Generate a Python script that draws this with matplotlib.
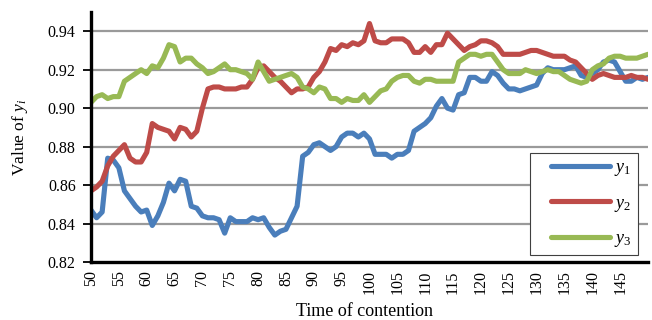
import numpy as np
import matplotlib
matplotlib.use("Agg")
import matplotlib.pyplot as plt
from matplotlib.legend_handler import HandlerLine2D

plt.rcParams["font.family"] = ["Liberation Serif", "DejaVu Serif"]
plt.rcParams["mathtext.fontset"] = "custom"
plt.rcParams["mathtext.rm"] = "Liberation Serif"
plt.rcParams["mathtext.it"] = "Liberation Serif:italic"

# Contention time steps
times = list(range(50, 151))

y1 = [0.847, 0.843, 0.846, 0.874, 0.873, 0.869, 0.857, 0.853, 0.849, 0.846,
      0.847, 0.839, 0.844, 0.851, 0.861, 0.857, 0.863, 0.862, 0.849, 0.848,
      0.844, 0.843, 0.843, 0.842, 0.835, 0.843, 0.841, 0.841, 0.841, 0.843,
      0.842, 0.843, 0.838, 0.834, 0.836, 0.837, 0.843, 0.849, 0.875, 0.877,
      0.881, 0.882, 0.880, 0.878, 0.880, 0.885, 0.887, 0.887, 0.885, 0.887,
      0.884, 0.876, 0.876, 0.876, 0.874, 0.876, 0.876, 0.878, 0.888, 0.890,
      0.892, 0.895, 0.901, 0.905, 0.900, 0.899, 0.907, 0.908, 0.916, 0.916,
      0.914, 0.914, 0.919, 0.917, 0.913, 0.910, 0.910, 0.909, 0.910, 0.911,
      0.912, 0.918, 0.921, 0.920, 0.920, 0.920, 0.921, 0.922, 0.917, 0.916,
      0.918, 0.920, 0.924, 0.925, 0.924, 0.919, 0.914, 0.914, 0.916, 0.915,
      0.916]

y2 = [0.857, 0.859, 0.862, 0.870, 0.875, 0.878, 0.881, 0.874, 0.872, 0.872,
      0.877, 0.892, 0.890, 0.889, 0.888, 0.884, 0.890, 0.889, 0.885, 0.888,
      0.900, 0.910, 0.911, 0.911, 0.910, 0.910, 0.910, 0.911, 0.911, 0.915,
      0.921, 0.922, 0.919, 0.916, 0.914, 0.911, 0.908, 0.910, 0.910, 0.911,
      0.916, 0.919, 0.924, 0.931, 0.930, 0.933, 0.932, 0.934, 0.933, 0.935,
      0.944, 0.935, 0.934, 0.934, 0.936, 0.936, 0.936, 0.934, 0.929, 0.929,
      0.932, 0.929, 0.933, 0.933, 0.939, 0.936, 0.933, 0.930, 0.932, 0.933,
      0.935, 0.935, 0.934, 0.932, 0.928, 0.928, 0.928, 0.928, 0.929, 0.930,
      0.930, 0.929, 0.928, 0.927, 0.927, 0.927, 0.925, 0.924, 0.921, 0.918,
      0.915, 0.917, 0.918, 0.917, 0.916, 0.916, 0.916, 0.917, 0.916, 0.916,
      0.915]

y3 = [0.903, 0.906, 0.907, 0.905, 0.906, 0.906, 0.914, 0.916, 0.918, 0.920,
      0.918, 0.922, 0.921, 0.926, 0.933, 0.932, 0.924, 0.926, 0.926, 0.923,
      0.921, 0.918, 0.919, 0.921, 0.923, 0.920, 0.920, 0.919, 0.918, 0.915,
      0.924, 0.919, 0.914, 0.915, 0.916, 0.917, 0.918, 0.916, 0.911, 0.910,
      0.908, 0.911, 0.910, 0.905, 0.905, 0.903, 0.905, 0.904, 0.904, 0.907,
      0.903, 0.906, 0.909, 0.910, 0.914, 0.916, 0.917, 0.917, 0.914, 0.913,
      0.915, 0.915, 0.914, 0.914, 0.914, 0.914, 0.924, 0.926, 0.928, 0.928,
      0.927, 0.928, 0.928, 0.924, 0.920, 0.918, 0.918, 0.918, 0.920, 0.919,
      0.918, 0.919, 0.920, 0.919, 0.919, 0.917, 0.915, 0.914, 0.913, 0.914,
      0.920, 0.922, 0.923, 0.926, 0.927, 0.927, 0.926, 0.926, 0.926, 0.927,
      0.928]

series_labels = ["$y_1$", "$y_2$", "$y_3$"]
series_colors = ["#4a7ebb", "#be4b48", "#98b954"]

x_ticks = list(range(50, 150, 5))
y_ticks = [0.82, 0.84, 0.86, 0.88, 0.90, 0.92, 0.94]


class InsetLineHandler(HandlerLine2D):
    """Legend line that leaves some blank space before the stroke."""

    def __init__(self, lead=0.2, **kw):
        super().__init__(**kw)
        self.lead = lead

    def get_xdata(self, legend, xdescent, ydescent, width, height, fontsize):
        start = -xdescent + self.lead * width
        return np.array([start, -xdescent + width]), np.array([start, -xdescent + width])


W, H = 652, 320
fig = plt.figure(figsize=(W / 100, H / 100), dpi=100)
ax = fig.add_axes([91 / W, 1 - 262 / H, (648 - 91) / W, (262 - 12) / H])

lines = []
for vals, lab, col in zip([y1, y2, y3], series_labels, series_colors):
    ln, = ax.plot(times, vals, color=col, lw=3.7, label=lab,
                  solid_capstyle="round", solid_joinstyle="round", zorder=3)
    lines.append(ln)

ax.set_xlim(50, 150)
ax.set_ylim(0.82, 0.95)
ax.set_yticks(y_ticks)
ax.set_yticklabels([f"{v:.2f}" for v in y_ticks], fontsize=11.5)
ax.set_xticks(x_ticks)
ax.set_xticklabels([str(v) for v in x_ticks], rotation=90, fontsize=11.5)
ax.tick_params(axis="x", length=0, pad=6)
ax.tick_params(axis="y", length=6, width=1.3, direction="out", pad=5)

for v in y_ticks[1:]:
    ax.axhline(v, color="#9a9a9a", lw=1.6, zorder=1)

for s in ["top", "right"]:
    ax.spines[s].set_visible(False)
for s in ["left", "bottom"]:
    ax.spines[s].set_linewidth(2.4)
    ax.spines[s].set_color("black")
    ax.spines[s].set_zorder(4)

fig.text(365 / W, 1 - 312 / H, "Time of contention", fontsize=13,
         ha="center", va="center")
fig.text(20 / W, 1 - 137 / H, "Value of $y_i$", fontsize=12.5,
         ha="center", va="center", rotation=90)

leg = ax.legend(handles=lines, loc="upper left",
                bbox_to_anchor=(530 / W, 1 - 153 / H),
                bbox_transform=fig.transFigure, borderaxespad=0,
                fontsize=13, handlelength=4.1, handletextpad=0.2,
                labelspacing=0.9, borderpad=0.35, fancybox=False,
                framealpha=1, edgecolor="#404040",
                handler_map={ln: InsetLineHandler(lead=0.2) for ln in lines})
leg.get_frame().set_linewidth(0.8)
leg.set_zorder(5)

fig.savefig("out.png", dpi=100)
